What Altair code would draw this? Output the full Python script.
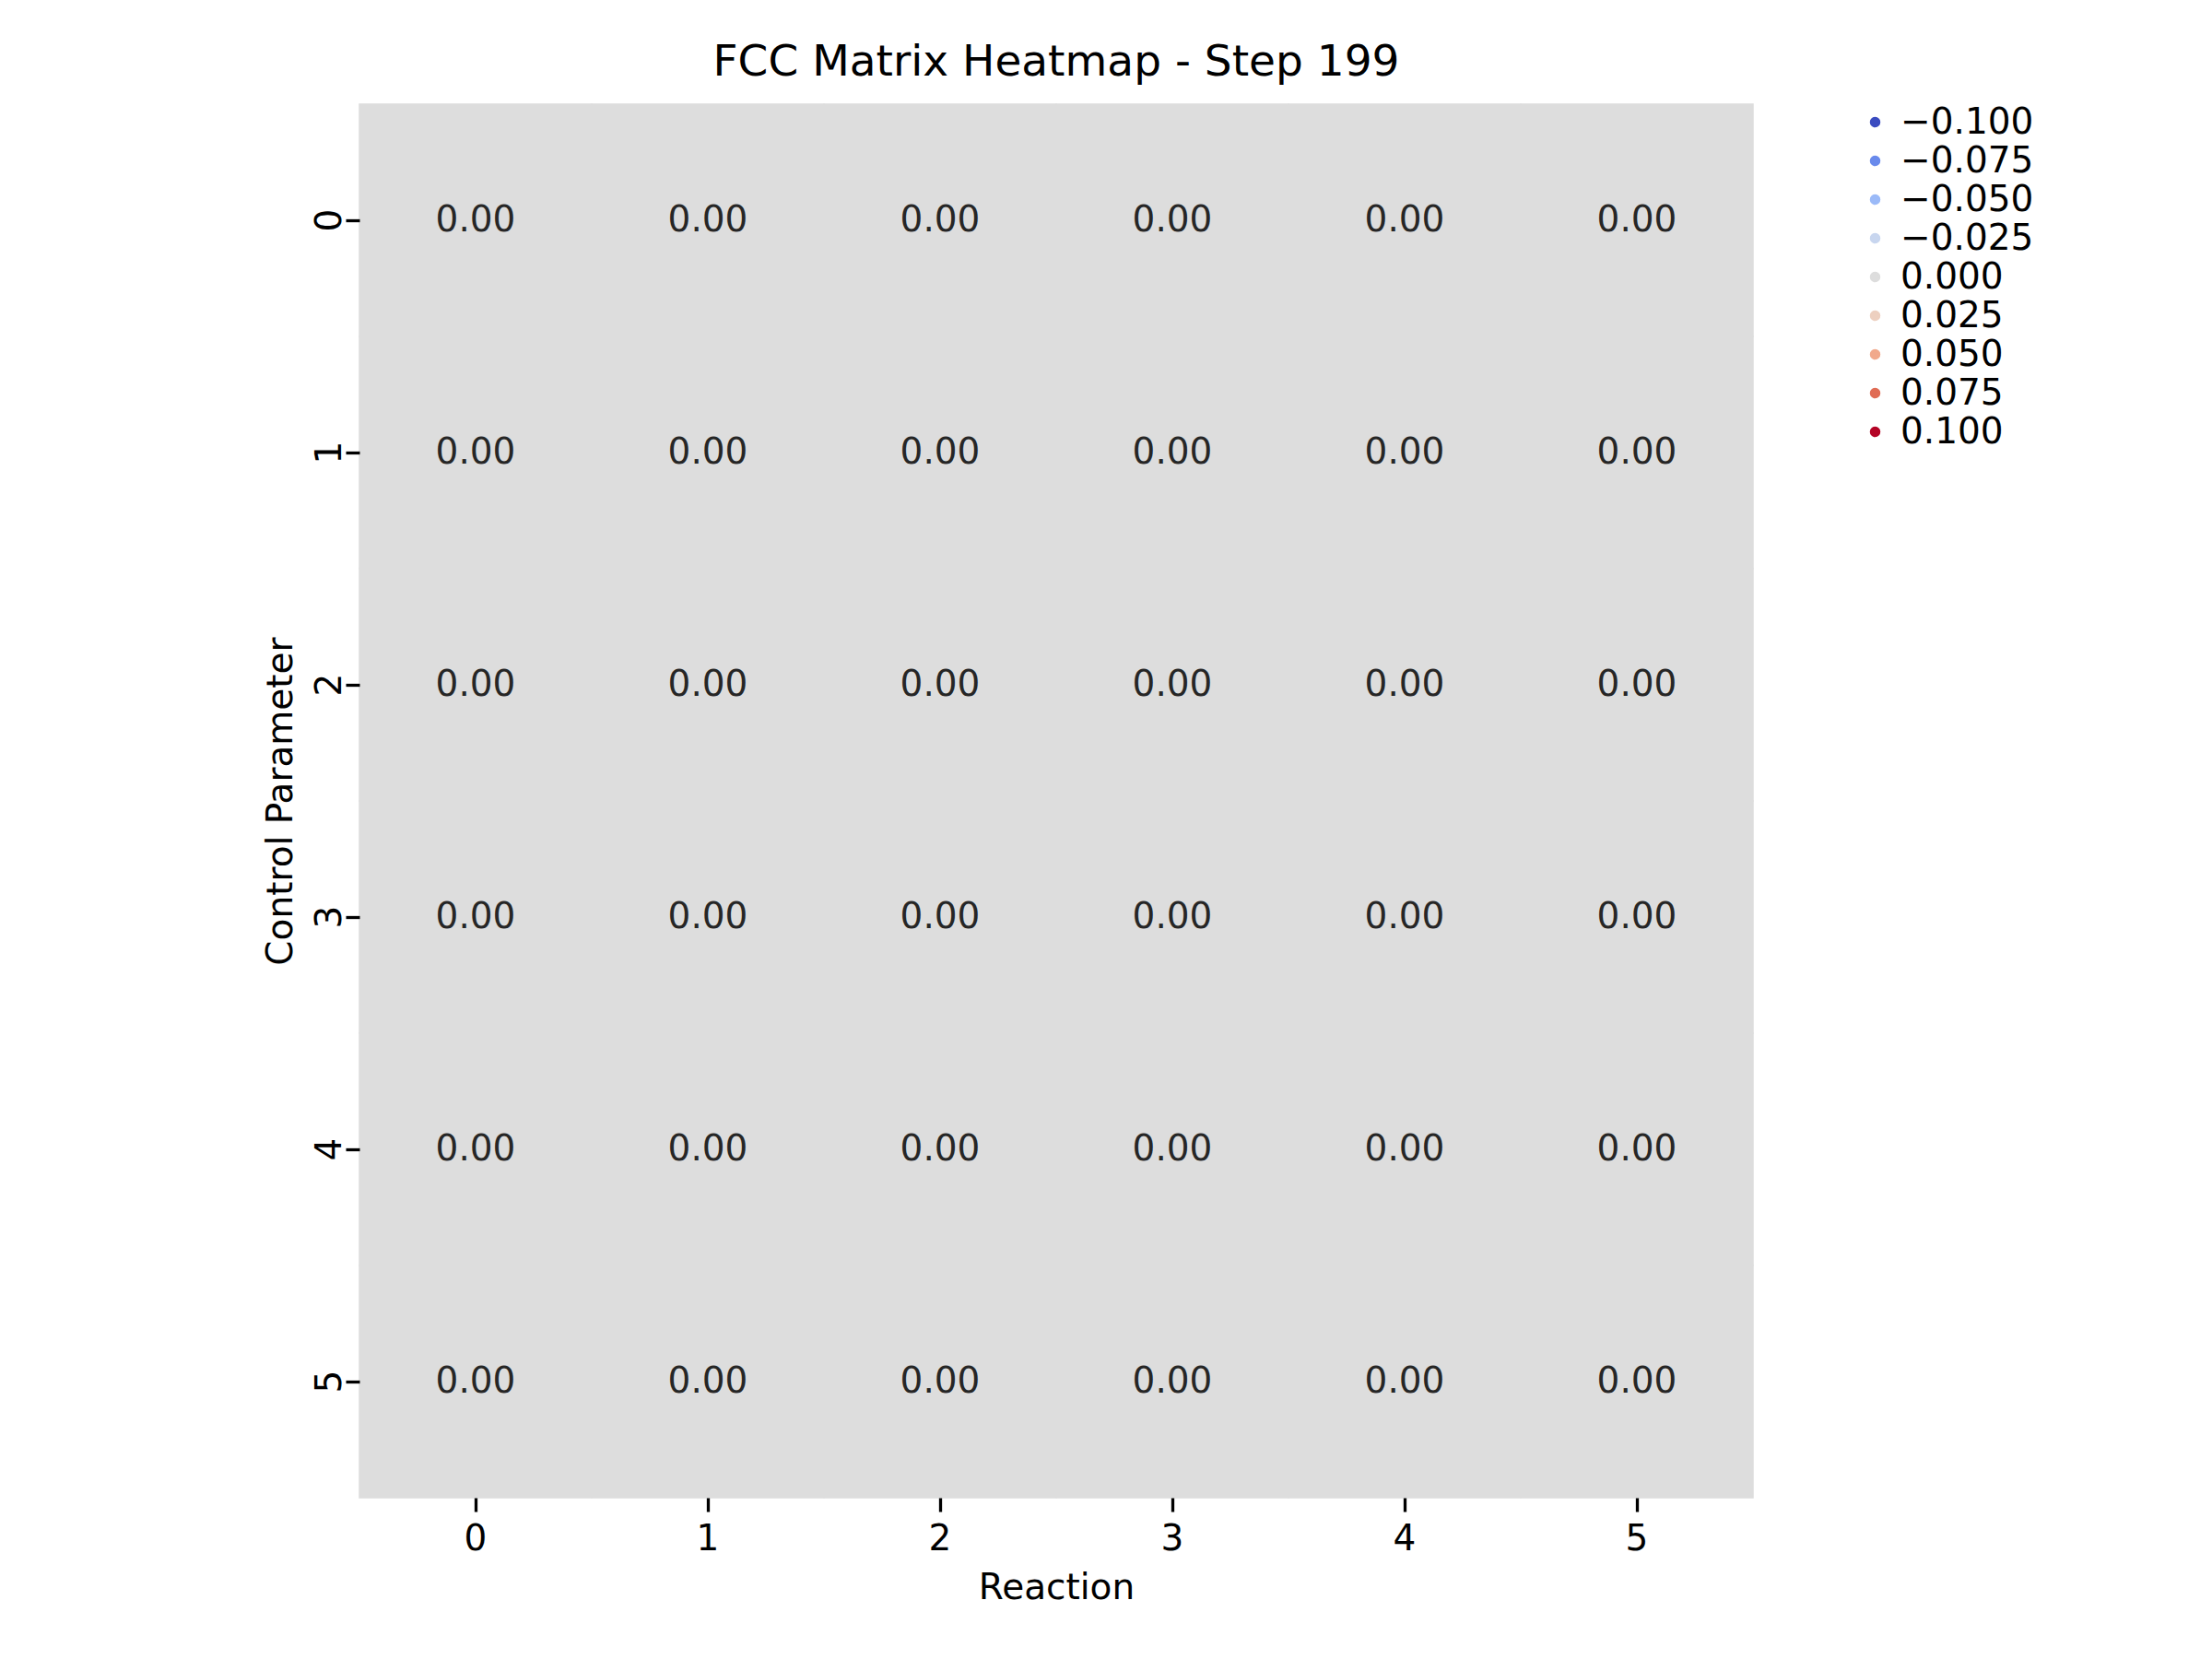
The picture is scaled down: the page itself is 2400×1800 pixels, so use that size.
import altair as alt
import pandas as pd

# FCC matrix values (all zero at step 199)
reactions = [0, 1, 2, 3, 4, 5]
params = [0, 1, 2, 3, 4, 5]
values = [
    [0.0, 0.0, 0.0, 0.0, 0.0, 0.0],
    [0.0, 0.0, 0.0, 0.0, 0.0, 0.0],
    [0.0, 0.0, 0.0, 0.0, 0.0, 0.0],
    [0.0, 0.0, 0.0, 0.0, 0.0, 0.0],
    [0.0, 0.0, 0.0, 0.0, 0.0, 0.0],
    [0.0, 0.0, 0.0, 0.0, 0.0, 0.0],
]
legend_ticks = [-0.1, -0.075, -0.05, -0.025, 0.0, 0.025, 0.05, 0.075, 0.1]

rows = []
for i, p in enumerate(params):
    for j, r in enumerate(reactions):
        rows.append({"Reaction": r, "Control Parameter": p, "value": values[i][j]})
df = pd.DataFrame(rows)

coolwarm = ["#3b4cc0", "#7b9ff9", "#c0d4f5", "#dddddd", "#f2cbb7", "#ee8468", "#b40426"]
font = "DejaVu Sans"

base = alt.Chart(df).encode(
    x=alt.X("Reaction:O", sort=reactions,
            axis=alt.Axis(labelAngle=0, titlePadding=14)),
    y=alt.Y("Control Parameter:O", sort=params,
            axis=alt.Axis(labelAngle=270, labelBaseline="middle", labelAlign="center",
                          labelPadding=18, titlePadding=14)),
)

heat = base.mark_rect(strokeWidth=1.5).encode(
    color=alt.Color("value:Q",
                    scale=alt.Scale(domain=[-0.1, 0.1], range=coolwarm),
                    legend=alt.Legend(title=None, orient="none", legendX=1625, legendY=0,
                                      gradientLength=1512, gradientThickness=74,
                                      values=legend_ticks, format=".3f",
                                      labelExpr="replace(datum.label, '-', '\u2212')",
                                      labelFontSize=39, labelFont=font, labelColor="black",
                                      labelOffset=8, tickCount=9)),
    stroke=alt.Color("value:Q", scale=alt.Scale(domain=[-0.1, 0.1], range=coolwarm),
                     legend=None),
)

text = base.mark_text(fontSize=39, font=font, color="#262626").encode(
    text=alt.Text("value:Q", format=".2f")
)

chart = (heat + text).properties(
    width=1512, height=1512,
    title=alt.TitleParams("FCC Matrix Heatmap - Step 199", fontSize=47, font=font,
                          fontWeight="normal", color="black", offset=20),
    padding={"left": 382, "top": 105, "right": 480, "bottom": 170},
    autosize=alt.AutoSizeParams(type="none"),
).configure_view(stroke=None).configure_axis(
    domain=False, grid=False, tickSize=15, tickWidth=3.3, tickColor="black",
    labelFontSize=39, labelFont=font, labelColor="black", labelPadding=10,
    titleFontSize=39, titleFont=font, titleFontWeight="normal", titleColor="black",
).configure_scale(bandPaddingInner=0, bandPaddingOuter=0)

chart.save("out.html", embed_options={"renderer": "svg", "actions": False})
